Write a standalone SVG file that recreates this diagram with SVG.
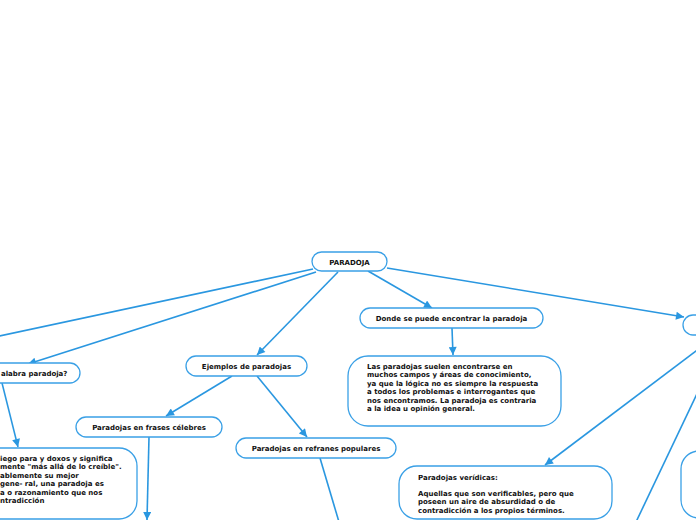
<svg xmlns="http://www.w3.org/2000/svg" width="696" height="520" viewBox="0 0 696 520">
<defs>
<style>
.n{fill:#fff;stroke:#3aa0e6;stroke-width:1.3}
.c{fill:none;stroke:#2a97e0;stroke-width:1.6}
.t{font-family:"DejaVu Sans","Verdana",sans-serif;font-weight:bold;font-size:7px;fill:#111}
.m{text-anchor:middle}
</style>
<marker id="ar" viewBox="0 0 10 10" refX="10" refY="5" markerWidth="9" markerHeight="8" markerUnits="userSpaceOnUse" orient="auto">
<path d="M0,0 L10,5 L0,10 z" fill="#2a97e0"/>
</marker>
</defs>
<rect width="696" height="520" fill="#fff"/>
<g id="connectors">
<line class="c" x1="313" y1="269" x2="-10" y2="338"/>
<line class="c" x1="316" y1="272" x2="28" y2="364" marker-end="url(#ar)"/>
<line class="c" x1="338" y1="272" x2="257" y2="355" marker-end="url(#ar)"/>
<line class="c" x1="368" y1="271" x2="432" y2="308" marker-end="url(#ar)"/>
<line class="c" x1="387" y1="268" x2="684" y2="317" marker-end="url(#ar)"/>
<line class="c" x1="452" y1="328" x2="453" y2="355" marker-end="url(#ar)"/>
<line class="c" x1="232" y1="376" x2="166" y2="416" marker-end="url(#ar)"/>
<line class="c" x1="257" y1="376" x2="307" y2="437" marker-end="url(#ar)"/>
<line class="c" x1="2" y1="383" x2="18" y2="447" marker-end="url(#ar)"/>
<line class="c" x1="149" y1="437" x2="147" y2="520" marker-end="url(#ar)"/>
<line class="c" x1="320" y1="458" x2="339" y2="522"/>
<line class="c" x1="716" y1="336" x2="545" y2="465" marker-end="url(#ar)"/>
<line class="c" x1="724" y1="337" x2="636" y2="522"/>
</g>
<g id="paradoja">
<rect class="n" x="312" y="252" width="75" height="19" rx="9.5"/>
<text class="t m" x="349.5" y="264.5">PARADOJA</text>
</g>
<g id="donde">
<rect class="n" x="360" y="308" width="183" height="20" rx="10"/>
<text class="t m" x="451.5" y="320.5">Donde se puede encontrar la paradoja</text>
</g>
<g id="donde-texto">
<rect class="n" x="348" y="356" width="213" height="70" rx="20"/>
<text class="t" x="367" y="368.5">Las paradojas suelen encontrarse en</text>
<text class="t" x="367" y="377">muchos campos y áreas de conocimiento,</text>
<text class="t" x="367" y="385.5">ya que la lógica no es siempre la respuesta</text>
<text class="t" x="367" y="394">a todos los problemas e interrogantes que</text>
<text class="t" x="367" y="402.5">nos encontramos. La paradoja es contraria</text>
<text class="t" x="367" y="411">a la idea u opinión general.</text>
</g>
<g id="ejemplos">
<rect class="n" x="186" y="356" width="121" height="20" rx="10"/>
<text class="t m" x="246.5" y="368.5">Ejemplos de paradojas</text>
</g>
<g id="palabra">
<rect class="n" x="-100" y="363" width="180" height="20" rx="10"/>
<text class="t" x="1" y="375.5">alabra paradoja?</text>
</g>
<g id="frases">
<rect class="n" x="76" y="417" width="146" height="20" rx="10"/>
<text class="t m" x="149" y="429.5">Paradojas en frases célebres</text>
</g>
<g id="refranes">
<rect class="n" x="236" y="438" width="160" height="20" rx="10"/>
<text class="t m" x="316" y="450.5">Paradojas en refranes populares</text>
</g>
<g id="definicion">
<rect class="n" x="-100" y="448" width="237" height="71" rx="18"/>
<text class="t" x="0" y="460.5">iego para y doxos y significa</text>
<text class="t" x="0" y="469">mente "más allá de lo creíble".</text>
<text class="t" x="0" y="477.5">ablemente su mejor</text>
<text class="t" x="0" y="486">gene- ral, una paradoja es</text>
<text class="t" x="0" y="494.5">a o razonamiento que nos</text>
<text class="t" x="0" y="503">ntradicción</text>
</g>
<g id="veridicas">
<rect class="n" x="399" y="466" width="213" height="53" rx="18"/>
<text class="t" x="418" y="479.5">Paradojas verídicas:</text>
<text class="t" x="418" y="495.5">Aquellas que son verificables, pero que</text>
<text class="t" x="418" y="504">poseen un aire de absurdidad o de</text>
<text class="t" x="418" y="512.5">contradicción a los propios términos.</text>
</g>
<g id="derecha">
<rect class="n" x="683" y="315" width="60" height="20" rx="10"/>
</g>
<g id="derecha-texto">
<rect class="n" x="681" y="451" width="60" height="67" rx="18"/>
</g>
</svg>
